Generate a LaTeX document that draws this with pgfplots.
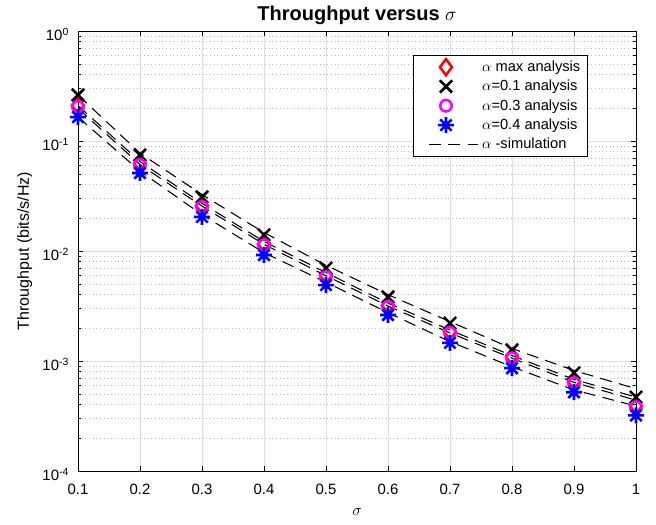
\documentclass[border=0pt]{standalone}
\usepackage{fontspec}
\setmainfont{Liberation Sans}
\usepackage{pgfplots}
\pgfplotsset{compat=1.18}
\definecolor{mred}{RGB}{255,0,0}
\definecolor{mmag}{RGB}{255,0,255}
\definecolor{mblue}{RGB}{0,0,255}
\definecolor{gridmaj}{RGB}{222,222,222}
\definecolor{gridmin}{RGB}{185,185,185}
\pgfdeclareplotmark{ast8}{%
  \pgfpathmoveto{\pgfpoint{0pt}{\pgfplotmarksize}}\pgfpathlineto{\pgfpoint{0pt}{-\pgfplotmarksize}}%
  \pgfpathmoveto{\pgfpoint{\pgfplotmarksize}{0pt}}\pgfpathlineto{\pgfpoint{-\pgfplotmarksize}{0pt}}%
  \pgfpathmoveto{\pgfpoint{.7071\pgfplotmarksize}{.7071\pgfplotmarksize}}\pgfpathlineto{\pgfpoint{-.7071\pgfplotmarksize}{-.7071\pgfplotmarksize}}%
  \pgfpathmoveto{\pgfpoint{-.7071\pgfplotmarksize}{.7071\pgfplotmarksize}}\pgfpathlineto{\pgfpoint{.7071\pgfplotmarksize}{-.7071\pgfplotmarksize}}%
  \pgfusepathqstroke}
\pgfplotsset{simleg/.style={legend image code/.code={\path[draw=none] (-0.45cm,0cm) (1.15cm,0cm); \draw[##1] (-0.15cm,0cm) -- (1.15cm,0cm);}}}
\begin{document}
\begin{tikzpicture}
\begin{axis}[
  scale only axis,
  width=418.5pt, height=330pt,
  xmin=0.1, xmax=1, ymode=log, ymin=1e-4, ymax=1,
  xtick={0.1,0.2,0.3,0.4,0.5,0.6,0.7,0.8,0.9,1},
  xticklabels={0.1,0.2,0.3,0.4,0.5,0.6,0.7,0.8,0.9,1},
  ytick={1e-4,1e-3,1e-2,1e-1,1},
  yticklabels={10\textsuperscript{-4},10\textsuperscript{-3},10\textsuperscript{-2},10\textsuperscript{-1},10\textsuperscript{0}},
  minor ytick={2e-4,3e-4,4e-4,5e-4,6e-4,7e-4,8e-4,9e-4,2e-3,3e-3,4e-3,5e-3,6e-3,7e-3,8e-3,9e-3,2e-2,3e-2,4e-2,5e-2,6e-2,7e-2,8e-2,9e-2,2e-1,3e-1,4e-1,5e-1,6e-1,7e-1,8e-1,9e-1},
  tick align=inside,
  major tick length=4pt, minor tick length=2.5pt,
  tick style={black, line width=0.5pt},
  axis line style={black, line width=0.6pt},
  xmajorgrids, ymajorgrids, yminorgrids,
  major grid style={gridmaj, line width=0.5pt, solid},
  minor grid style={gridmin, line width=0.5pt, dash pattern=on 0.75pt off 2pt},
  tick label style={font=\fontsize{11.2}{13}\selectfont},
  xticklabel style={anchor=center, yshift=-13.5pt},
  yticklabel style={anchor=east, xshift=-3.2pt, yshift=-2.5pt},
  xlabel={$\sigma$},
  ylabel={Throughput (bits/s/Hz)},
  label style={font=\fontsize{12}{14}\selectfont},
  xlabel style={at={(axis description cs:0.5,0)}, anchor=center, yshift=-31pt},
  ylabel style={at={(axis description cs:0,0.5)}, anchor=center, yshift=40pt},
  title={\textbf{Throughput versus} $\sigma$},
  every axis title/.style={font=\fontsize{15}{17}\selectfont, at={(0.5,1)}, anchor=center, yshift=12pt},
  legend style={at={(0.914,0.945)}, anchor=north east, draw=black, line width=0.5pt,
    font=\fontsize{11}{13}\selectfont, fill=white, row sep=0pt, inner xsep=3pt, inner ysep=1.5pt,
    nodes={inner ysep=2.5pt, inner xsep=2.5pt},
    /tikz/every even column/.append style={column sep=0pt}},
  legend cell align=left,
]
% alpha max analysis
\addplot[only marks, mark=diamond, mark size=6pt, mred, line width=1.9pt] coordinates {
(0.1,0.210) (0.2,0.0625) (0.3,0.0258) (0.4,0.0116) (0.5,0.0060) (0.6,0.0032) (0.7,0.00185) (0.8,0.00109) (0.9,0.00065) (1.0,0.00039)};
\addlegendentry{$\alpha$ max analysis}
% alpha=0.1 analysis
\addplot[only marks, mark=x, mark size=6.5pt, black, line width=1.9pt] coordinates {
(0.1,0.262) (0.2,0.0746) (0.3,0.031) (0.4,0.014) (0.5,0.0070) (0.6,0.00382) (0.7,0.00221) (0.8,0.00126) (0.9,0.00078) (1.0,0.00047)};
\addlegendentry{$\alpha$=0.1 analysis}
% alpha=0.3 analysis
\addplot[only marks, mark=o, mark size=4.3pt, mmag, line width=1.9pt] coordinates {
(0.1,0.204) (0.2,0.0605) (0.3,0.0251) (0.4,0.0113) (0.5,0.0058) (0.6,0.0031) (0.7,0.0018) (0.8,0.00106) (0.9,0.00063) (1.0,0.00038)};
\addlegendentry{$\alpha$=0.3 analysis}
% alpha=0.4 analysis
\addplot[only marks, mark=ast8, mark size=6pt, mblue, line width=1.9pt] coordinates {
(0.1,0.165) (0.2,0.0512) (0.3,0.0204) (0.4,0.0092) (0.5,0.0049) (0.6,0.00262) (0.7,0.00146) (0.8,0.00086) (0.9,0.00052) (1.0,0.00032)};
\addlegendentry{$\alpha$=0.4 analysis}
% simulations
\addplot[simleg, black, line width=0.8pt, dash pattern=on 9pt off 5.5pt] coordinates {
(0.1,0.262) (0.2,0.0776) (0.3,0.0326) (0.4,0.0147) (0.5,0.00742) (0.6,0.00401) (0.7,0.00228) (0.8,0.0013) (0.9,0.00082) (1.0,0.00056)};
\addlegendentry{$\alpha$ -simulation}
\addplot[forget plot, black, line width=0.8pt, dash pattern=on 9pt off 5.5pt] coordinates {
(0.1,0.210) (0.2,0.065) (0.3,0.0271) (0.4,0.0122) (0.5,0.00636) (0.6,0.00336) (0.7,0.00191) (0.8,0.00112) (0.9,0.00068) (1.0,0.00047)};
\addplot[forget plot, black, line width=0.8pt, dash pattern=on 9pt off 5.5pt] coordinates {
(0.1,0.198) (0.2,0.0610) (0.3,0.0256) (0.4,0.0115) (0.5,0.00596) (0.6,0.00316) (0.7,0.0018) (0.8,0.00106) (0.9,0.00064) (1.0,0.00044)};
\addplot[forget plot, black, line width=0.8pt, dash pattern=on 9pt off 5.5pt] coordinates {
(0.1,0.165) (0.2,0.0532) (0.3,0.0214) (0.4,0.00966) (0.5,0.0052) (0.6,0.00275) (0.7,0.0015) (0.8,0.000886) (0.9,0.000546) (1.0,0.00039)};
\end{axis}
\pgfresetboundingbox
\path[use as bounding box] ([xshift=-58.5pt,yshift=-40pt]current axis.south west) rectangle ([xshift=15pt,yshift=23.25pt]current axis.north east);
\end{tikzpicture}
\end{document}
